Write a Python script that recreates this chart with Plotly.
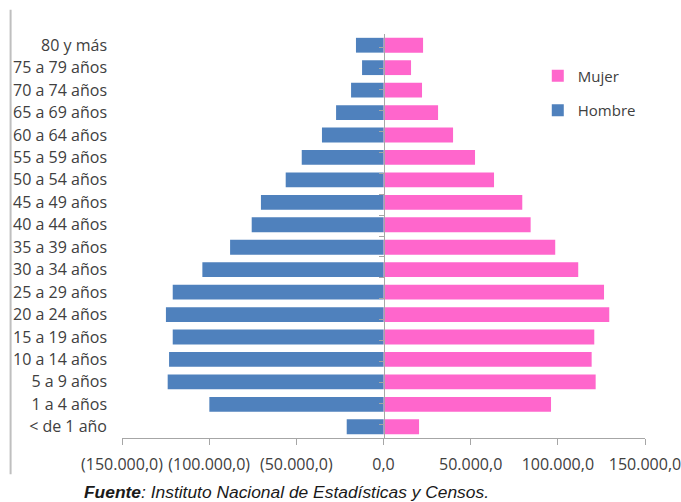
import plotly.graph_objects as go

categories = ["80 y más", "75 a 79 años", "70 a 74 años", "65 a 69 años", "60 a 64 años",
              "55 a 59 años", "50 a 54 años", "45 a 49 años", "40 a 44 años", "35 a 39 años",
              "30 a 34 años", "25 a 29 años", "20 a 24 años", "15 a 19 años", "10 a 14 años",
              "5 a 9 años", "1 a 4 años", "< de 1 año"]

hombre = [15800, 12300, 18600, 27200, 35300, 46900, 56100, 70300, 75600, 88000,
          103900, 120900, 124800, 120900, 123000, 123800, 99900, 21100]
mujer = [22700, 15800, 22100, 31300, 39900, 52500, 63400, 79600, 84400, 98500,
         111700, 126500, 129500, 120900, 119400, 121700, 96100, 20400]

tick_vals = [-150000, -100000, -50000, 0, 50000, 100000, 150000]
tick_text = ["(150.000,0)", "(100.000,0)", "(50.000,0)", "0,0", "50.000,0", "100.000,0", "150.000,0"]

BLUE = "#4F81BD"
PINK = "#FF66CC"
TXT = "#404040"
AX = "#A6A6A6"
FONT = "Open Sans"

order = categories[::-1]

fig = go.Figure()
fig.add_trace(go.Bar(y=categories, x=mujer, orientation="h", name="Mujer",
                     marker=dict(color=PINK, line=dict(width=0)), legendgroup="m",
                     hoverinfo="skip"))
fig.add_trace(go.Bar(y=categories, x=[-v for v in hombre], orientation="h", name="Hombre",
                     marker=dict(color=BLUE, line=dict(width=0)), legendgroup="h",
                     hoverinfo="skip"))
# invisible trace to carry the central category axis (boundary ticks)
fig.add_trace(go.Scatter(y=categories, x=[0] * len(categories), yaxis="y2", mode="markers",
                         marker=dict(opacity=0), showlegend=False, hoverinfo="skip"))

fig.update_layout(
    template="none",
    width=681, height=502,
    margin=dict(l=122, r=36, t=34, b=64, autoexpand=False),
    paper_bgcolor="white", plot_bgcolor="white",
    barmode="relative", bargap=0.34,
    font=dict(family=FONT, size=16, color=TXT),
    xaxis=dict(range=[-150000, 150000], tickvals=tick_vals, ticktext=tick_text,
               showline=True, linecolor=AX, linewidth=1, ticks="outside", ticklen=6,
               tickcolor=AX, showgrid=False, zeroline=False, ticklabelstandoff=6,
               ticklabeloverflow="allow",
               tickfont=dict(size=16, color=TXT), fixedrange=True, automargin=False),
    yaxis=dict(type="category", categoryorder="array", categoryarray=order,
               showline=False, ticks="", showgrid=False, ticklabelstandoff=14,
               tickfont=dict(size=16, color=TXT), fixedrange=True, automargin=False),
    yaxis2=dict(type="category", categoryorder="array", categoryarray=order,
                overlaying="y", anchor="free", position=0.5, side="left",
                showline=True, linecolor=AX, linewidth=1, ticks="outside",
                tickson="boundaries", ticklen=5, tickcolor=AX,
                showticklabels=False, showgrid=False, fixedrange=True, automargin=False),
    legend=dict(x=0.795, y=0.937, xanchor="left", yanchor="top",
                traceorder="grouped", tracegroupgap=12, itemwidth=30,
                font=dict(size=15, color=TXT), bgcolor="rgba(0,0,0,0)"),
    showlegend=True,
)

# page border line at far left
fig.add_shape(type="line", xref="paper", yref="paper", x0=-0.213, x1=-0.213,
              y0=1.06, y1=-0.09, line=dict(color="#BFBFBF", width=2))

fig.add_annotation(xref="paper", yref="paper", x=-0.076, y=-0.134,
                   xanchor="left", yanchor="middle", showarrow=False,
                   text="<b><i>Fuente</i></b><i>: Instituto Nacional de Estadísticas y Censos.</i>",
                   font=dict(family="Liberation Sans", size=17.4, color="#1a1a1a"))

fig.write_html("out.html")
